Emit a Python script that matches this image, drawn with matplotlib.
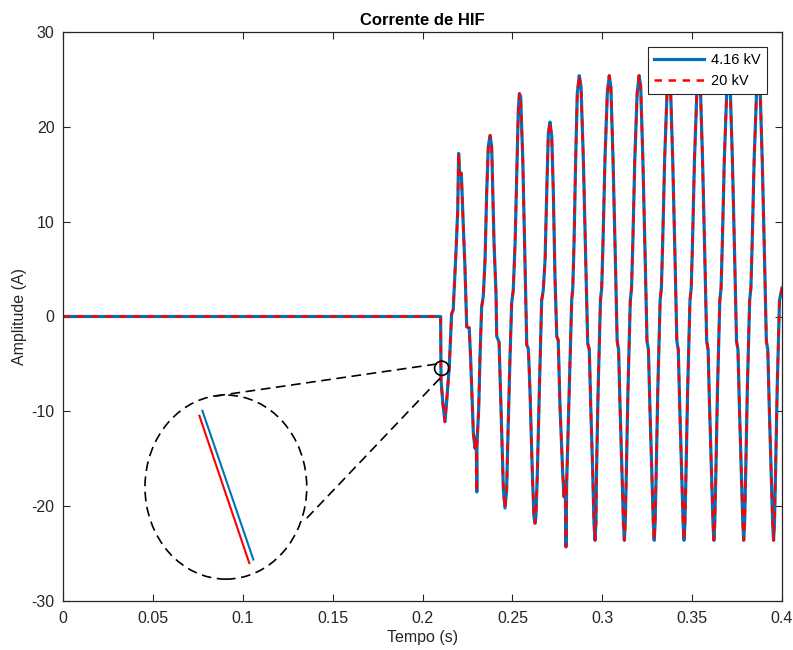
import numpy as np
import matplotlib.pyplot as plt
from matplotlib.patches import Ellipse

plt.rcParams['font.family'] = ['Liberation Sans', 'DejaVu Sans']
plt.rcParams['lines.scale_dashes'] = False
plt.rcParams['axes.unicode_minus'] = False

#time axis (s)
t = [0.0, 0.2101, 0.2103, 0.2114, 0.2125, 0.2135, 0.2149, 0.2162, 0.2171, 0.2175,
     0.2186, 0.2196, 0.2201, 0.2205, 0.2210, 0.2216, 0.2227, 0.2236, 0.2246, 0.2260,
     0.2268, 0.2274, 0.2283, 0.2292, 0.2299, 0.2302, 0.2303, 0.2313, 0.2320, 0.2329,
     0.2338, 0.2348, 0.2357, 0.2366, 0.2376, 0.2385, 0.2394, 0.2398, 0.2409, 0.2413,
     0.2426, 0.2431, 0.2441, 0.2450, 0.2459, 0.2468, 0.2477, 0.2487, 0.2496, 0.2505,
     0.2515, 0.2524, 0.2533, 0.2539, 0.2546, 0.2558, 0.2570, 0.2580, 0.2589, 0.2598,
     0.2611, 0.2620, 0.2626, 0.2631, 0.2639, 0.2650, 0.2663, 0.2672, 0.2682, 0.2691,
     0.2700, 0.2709, 0.2719, 0.2728, 0.2737, 0.2747, 0.2755, 0.2765, 0.2780, 0.2787,
     0.2794, 0.2798, 0.2802, 0.2811, 0.2821, 0.2830, 0.2836, 0.2843, 0.2852, 0.2861,
     0.2872, 0.2882, 0.2895, 0.2908, 0.2919, 0.2928, 0.2936, 0.2947, 0.2954, 0.2960,
     0.2965,
     0.2968, 0.2977, 0.2990, 0.2997, 0.3004, 0.3015, 0.3028, 0.3039, 0.3048, 0.3060,
     0.3073, 0.3083, 0.3091, 0.3099, 0.3110, 0.3118, 0.3123, 0.3128,
     0.3134, 0.3143, 0.3156, 0.3163, 0.3170, 0.3181, 0.3194, 0.3205, 0.3214, 0.3226,
     0.3239, 0.3249, 0.3257, 0.3265, 0.3276, 0.3284, 0.3289, 0.3294,
     0.3300, 0.3309, 0.3322, 0.3329, 0.3336, 0.3347, 0.3360, 0.3371, 0.3380, 0.3392,
     0.3405, 0.3415, 0.3423, 0.3431, 0.3442, 0.3450, 0.3455, 0.3460,
     0.3466, 0.3475, 0.3488, 0.3495, 0.3502, 0.3513, 0.3526, 0.3537, 0.3546, 0.3558,
     0.3571, 0.3581, 0.3589, 0.3597, 0.3608, 0.3616, 0.3621, 0.3626,
     0.3632, 0.3641, 0.3654, 0.3661, 0.3668, 0.3679, 0.3692, 0.3703, 0.3712, 0.3724,
     0.3737, 0.3747, 0.3755, 0.3763, 0.3774, 0.3782, 0.3787, 0.3792,
     0.3798, 0.3807, 0.3820, 0.3827, 0.3834, 0.3845, 0.3858, 0.3869, 0.3878, 0.3890,
     0.3903, 0.3913, 0.3921, 0.3929, 0.3940, 0.3948, 0.3953, 0.3958,
     0.3964, 0.3973, 0.3986, 0.4000]

#HIF current, 4.16 kV feeder (A)
i_416 = [0.0, 0.0, -6.7, -9.3, -11.1, -8.8, -5.3, 0.3, 0.7, 2.4,
         6.7, 11.2, 17.2, 15.5, 14.9, 15.1, 9.5, 5.3, -1.1, -1.2,
         -4.6, -7.8, -12.3, -13.9, -12.7, -18.5, -13.6, -9.5, -4.2, 1.0,
         2.1, 6.0, 13.0, 17.9, 19.1, 17.9, 10.5, 7.7, 2.4, -2.1,
         -2.7, -6.0, -13.0, -18.3, -20.2, -18.3, -11.3, -4.2, 1.4, 2.8,
         7.7, 14.7, 21.8, 23.5, 23.2, 16.5, 6.0, -3.0, -3.4, -7.8,
         -16.5, -21.1, -21.8, -21.1, -16.5, -7.8, 1.7, 2.8, 6.0, 13.0,
         19.3, 20.5, 19.0, 13.0, 4.2, -2.1, -2.5, -9.5, -16.5, -19.0,
         -17.4, -24.3, -17.6, -11.3, -4.2, 1.7, 3.0, 7.7, 16.5, 23.5,
         25.4, 24.2, 16.5, 6.0, -2.8, -3.5, -9.5, -16.5, -21.8, -23.6,
         -21.8,
         -16.5, -7.8, 1.7, 3.0, 7.7, 16.5, 23.5, 25.4, 24.2, 16.5,
         6.0, -2.6, -3.5, -9.5, -16.5, -21.8, -23.6, -21.8,
         -16.5, -7.8, 1.7, 3.0, 7.7, 16.5, 23.5, 25.4, 24.2, 16.5,
         6.0, -2.6, -3.5, -9.5, -16.5, -21.8, -23.6, -21.8,
         -16.5, -7.8, 1.7, 3.0, 7.7, 16.5, 23.4, 25.3, 24.1, 16.5,
         6.0, -2.6, -3.5, -9.5, -16.5, -21.8, -23.6, -21.8,
         -16.5, -7.8, 1.7, 3.0, 7.7, 16.5, 23.5, 25.4, 24.2, 16.5,
         6.0, -2.6, -3.5, -9.5, -16.5, -21.8, -23.6, -21.8,
         -16.5, -7.8, 1.7, 3.0, 7.7, 16.5, 23.4, 25.3, 24.1, 16.5,
         6.0, -2.6, -3.5, -9.5, -16.5, -21.8, -23.6, -21.8,
         -16.5, -7.8, 1.7, 3.0, 7.7, 16.5, 23.4, 25.3, 24.1, 16.5,
         6.0, -2.6, -3.5, -9.5, -16.5, -21.8, -23.6, -21.8,
         -16.5, -7.8, 1.7, 3.0]

#20 kV feeder: same curve at this scale
i_20 = list(i_416)

#zoomed segment shown inside the big circle
zoom_t_416 = [0.20954, 0.21206]
zoom_i_416 = [-4.84, -6.06]
zoom_t_20 = [0.20939, 0.21186]
zoom_i_20 = [-4.88, -6.09]

blue = '#0072BD'
dark = '#262626'

fig = plt.figure(figsize=(7.93, 6.5), dpi=100)
ax = fig.add_axes([63/793, 1 - 601/650, 719/793, 569/650])

ax.plot(t, i_416, color=blue, lw=2.3, label='4.16 kV')
ax.plot(t, i_20, color='red', lw=1.8, dashes=(5.4, 4.7), label='20 kV')

ax.set_xlim(0, 0.4)
ax.set_ylim(-30, 30)
ax.set_xticks(np.arange(0, 0.401, 0.05))
ax.set_xticklabels(['0', '0.05', '0.1', '0.15', '0.2', '0.25', '0.3', '0.35', '0.4'])
ax.set_yticks(np.arange(-30, 31, 10))
ax.tick_params(direction='in', length=5, width=0.8, colors=dark, labelsize=11.5,
               top=True, right=True)
ax.tick_params(axis='x', pad=7)
ax.tick_params(axis='y', pad=6)
for s in ax.spines.values():
    s.set_color(dark)
    s.set_linewidth(0.9)

ax.set_title('Corrente de HIF', fontsize=12, fontweight='bold', pad=5)
ax.set_xlabel('Tempo (s)', fontsize=11.5, color=dark, labelpad=3)
ax.set_ylabel('Amplitude (A)', fontsize=11.5, color=dark, labelpad=3)

leg = ax.legend(loc='upper right', fontsize=10.5, fancybox=False, framealpha=1,
                edgecolor=dark, handlelength=3.4, borderaxespad=1.0,
                labelspacing=0.45, handletextpad=0.5, borderpad=0.45)
leg.get_frame().set_linewidth(0.8)

#magnifier: small circle on the curve, big circle with the zoom
small = Ellipse((0.2107, -5.46), 0.00796, 1.51, fill=False, ec='k', lw=1.2, zorder=5)
big = Ellipse((0.0906, -17.99), 0.0900, 19.41, fill=False, ec='k', lw=1.2,
              ls=(0, (7, 4)), zorder=5)
ax.add_patch(small)
ax.add_patch(big)
ax.plot([0.2079, 0.0846], [-5.01, -8.39], color='k', lw=1.2, dashes=(7, 4), zorder=5)
ax.plot([0.2097, 0.1337], [-6.52, -21.65], color='k', lw=1.2, dashes=(7, 4), zorder=5)

axz = fig.add_axes([145/793, 1 - 579/650, 161.7/793, 184/650])
axz.plot(zoom_t_416, zoom_i_416, color=blue, lw=1.5)
axz.plot(zoom_t_20, zoom_i_20, color='red', lw=1.5)
axz.set_xlim(0.2067, 0.2147)
axz.set_ylim(-6.22, -4.71)
axz.axis('off')

plt.savefig('out.png', dpi=100)
